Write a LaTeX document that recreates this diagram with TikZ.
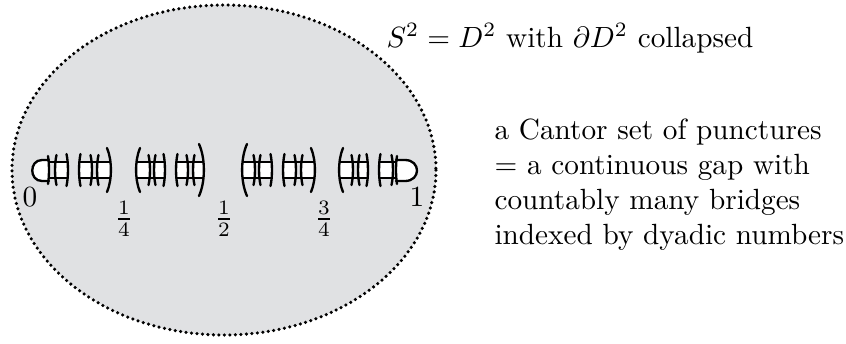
\documentclass[tikz,border=0pt]{standalone}
\definecolor{discgray}{RGB}{224,225,227}
\tikzset{
  disc/.style={fill=discgray,draw=none},
  rim/.style={line width=1.2pt,line cap=round,dash pattern=on 0pt off 1.88pt},
  gapbox/.style={fill=white,draw=none},
  sidelabel/.style={inner sep=0pt},
  bar/.style={line width=0.7pt},
  bridge/.style={line width=0.8pt,line cap=round},
}
% left and right arcs of a bridge: x position, half height, bulge
\newcommand{\lamleft}[3]{\draw[bridge] (#1+#3,170-#2) .. controls (#1-#3*0.3,170-#2*0.45) and (#1-#3*0.3,170+#2*0.45) .. (#1+#3,170+#2);}
\newcommand{\lamright}[3]{\draw[bridge] (#1-#3,170-#2) .. controls (#1+#3*0.3,170-#2*0.45) and (#1+#3*0.3,170+#2*0.45) .. (#1-#3,170+#2);}
\begin{document}
\begin{tikzpicture}[x=0.342pt,y=-0.342pt]
\useasboundingbox (0,0) rectangle (846,343);

\draw[disc] (224,170) ellipse (212 and 165);
\draw[rim] (224,170) ellipse (212 and 165);

% punctures
\fill[gapbox] (42,160) -- (49,160) -- (49,181) -- (42,181) .. controls (29,181) and (29,160) .. (42,160);
\fill[gapbox] (405,160) -- (396,160) -- (396,181) -- (405,181) .. controls (421,181) and (421,160) .. (405,160);
\foreach \a/\b in {55/68,79/92,97/111,136/150,154/165,176/188,193/204,242/255,259/272,283/296,301/315,339/353,358/368,379/393}
  \fill[gapbox] (\a,162) rectangle (\b,178);

% bars across each group
\foreach \a/\b in {49/68,79/111,136/165,176/204,242/272,283/315,339/368,379/396}
  \draw[bar] (\a,162) -- (\b,162) (\a,178) -- (\b,178);

% end caps
\draw[bridge] (49,160) -- (42,160) .. controls (29,160) and (29,181) .. (42,181) -- (49,181);
\draw[bridge] (396,160) -- (405,160) .. controls (421,160) and (421,181) .. (405,181) -- (396,181);
\lamright{49}{14}{1}
\lamleft{396}{14}{1}

% arcs of the bridges
\foreach \x/\h/\b in {55/15/1.5,79/16/1.5,97/15/1.5,136/22/4,154/15/1.5,176/16/1.5,193/15/1.5,242/26/5,259/15/1.5,283/16/1.5,301/15/1.5,339/22/4,358/15/1.5,379/16/1.5}
  {\lamleft{\x}{\h}{\b}}
\foreach \x/\h/\b in {68/16/1.5,92/15/1.5,111/22/4,150/15/1.5,165/16/1.5,188/15/1.5,204/26/5,255/15/1.5,272/16/1.5,296/15/1.5,315/22/4,353/15/1.5,368/16/1.5,393/15/1.5}
  {\lamright{\x}{\h}{\b}}

\node (sphere) [sidelabel,anchor=base west] at (386,47) {$S^2=D^2$ with $\partial D^2$ collapsed};

\node (cantor) [sidelabel,anchor=north west,align=left] at (494,118) {a Cantor set of punctures\\$=$ a continuous gap with\\countably many bridges\\indexed by dyadic numbers};

\node (zero) [sidelabel] at (30,197) {$0$};
\node (one) [sidelabel] at (417,197) {$1$};
\node (quarter) [sidelabel] at (124,219) {$\frac14$};
\node (half) [sidelabel] at (224,219) {$\frac12$};
\node (threeq) [sidelabel] at (324,219) {$\frac34$};

\end{tikzpicture}
\end{document}
